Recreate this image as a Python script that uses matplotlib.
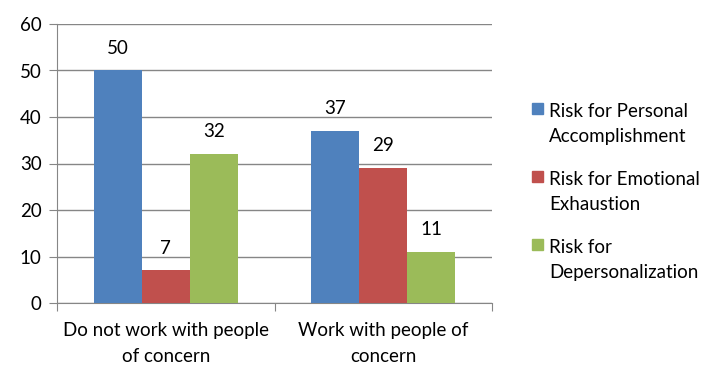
import numpy as np
import matplotlib.pyplot as plt
from matplotlib.patches import Rectangle

categories = ['Do not work with people\nof concern', 'Work with people of\nconcern']
series = ['Risk for Personal\nAccomplishment', 'Risk for Emotional\nExhaustion', 'Risk for\nDepersonalization']
values = [[50, 37], [7, 29], [32, 11]]
colors = ['#4F81BD', '#C0504D', '#9BBB59']
yticks = [0, 10, 20, 30, 40, 50, 60]

plt.rcParams['font.family'] = ['Lato', 'DejaVu Sans']
plt.rcParams['font.size'] = 13.5

W, H = 711, 365
fig = plt.figure(figsize=(W / 100, H / 100), dpi=100)
ax = fig.add_axes([57 / W, 1 - 303 / H, (492 - 57) / W, (303 - 24) / H])

x = np.arange(len(categories))
w = 0.221
for i, (name, vals) in enumerate(zip(series, values)):
    pos = x + (i - 1) * w
    ax.bar(pos, vals, w, color=colors[i], label=name, zorder=3)
    for px, v in zip(pos, vals):
        ax.annotate(str(v), (px, v), xytext=(0, 10), textcoords='offset points',
                    ha='center', va='bottom')

ax.set_xlim(-0.5, 1.5)
ax.set_ylim(0, 60)
ax.set_yticks(yticks)
ax.yaxis.grid(True, color='#868686', lw=1, zorder=0)
ax.set_xticks([-0.5, 0.5, 1.5])
ax.set_xticklabels([])
ax.set_xticks(x, minor=True)
ax.set_xticklabels(categories, minor=True, linespacing=1.6)
ax.tick_params(axis='x', which='minor', length=0, pad=14)
ax.tick_params(axis='x', which='major', length=6, color='#868686')
ax.tick_params(axis='y', length=6, color='#868686', pad=5)
for s in ['top', 'right']:
    ax.spines[s].set_visible(False)
for s in ['left', 'bottom']:
    ax.spines[s].set_color('#868686')

# legend drawn by hand: square next to the first line of each label
# (va='baseline' on two-line text lines up the last line, hence +26)
for i, name in enumerate(series):
    top = 103 + i * 68
    fig.patches.append(Rectangle((532 / W, 1 - (top + 11) / H), 11 / W, 11 / H,
                                 transform=fig.transFigure, color=colors[i]))
    fig.text(549 / W, 1 - (top + 13 + 26) / H, name, ha='left', va='baseline', linespacing=1.6)

fig.savefig('out.png', dpi=100)
